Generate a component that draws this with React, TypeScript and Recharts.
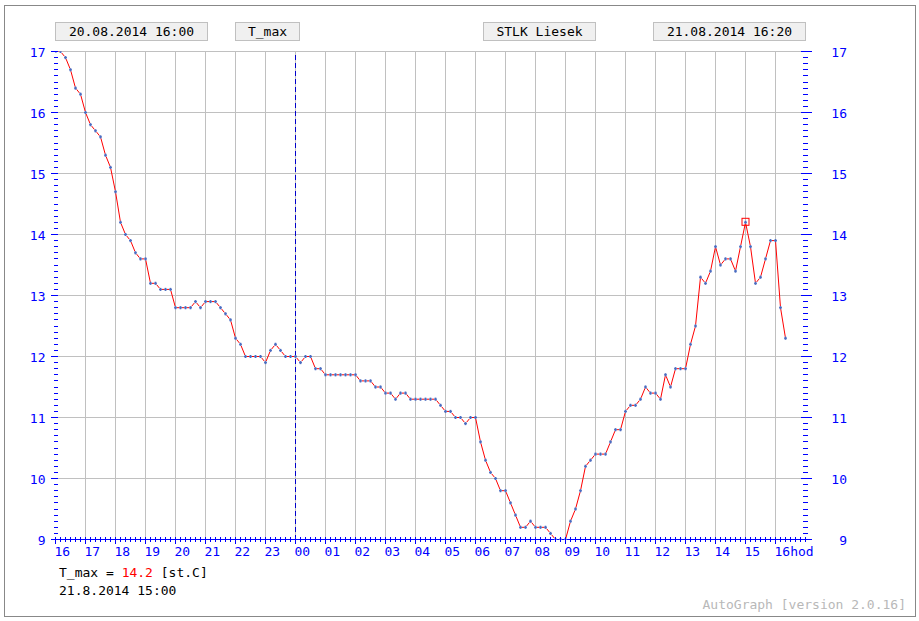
import React from 'react';
import {
  LineChart,
  Line,
  XAxis,
  YAxis,
  ReferenceLine,
  ReferenceDot,
} from 'recharts';

// T_max, 10-minute samples from 20.08.2014 16:00 to 21.08.2014 16:20
const tMax = [
  17.0, 17.0, 16.9, 16.7, 16.4, 16.3, 16.0, 15.8, 15.7, 15.6, 15.3, 15.1,
  14.7, 14.2, 14.0, 13.9, 13.7, 13.6, 13.6, 13.2, 13.2, 13.1, 13.1, 13.1,
  12.8, 12.8, 12.8, 12.8, 12.9, 12.8, 12.9, 12.9, 12.9, 12.8, 12.7, 12.6,
  12.3, 12.2, 12.0, 12.0, 12.0, 12.0, 11.9, 12.1, 12.2, 12.1, 12.0, 12.0,
  12.0, 11.9, 12.0, 12.0, 11.8, 11.8, 11.7, 11.7, 11.7, 11.7, 11.7, 11.7,
  11.7, 11.6, 11.6, 11.6, 11.5, 11.5, 11.4, 11.4, 11.3, 11.4, 11.4, 11.3,
  11.3, 11.3, 11.3, 11.3, 11.3, 11.2, 11.1, 11.1, 11.0, 11.0, 10.9, 11.0,
  11.0, 10.6, 10.3, 10.1, 10.0, 9.8, 9.8, 9.6, 9.4, 9.2, 9.2, 9.3,
  9.2, 9.2, 9.2, 9.1, 9.0, 9.0, 9.0, 9.3, 9.5, 9.8, 10.2, 10.3,
  10.4, 10.4, 10.4, 10.6, 10.8, 10.8, 11.1, 11.2, 11.2, 11.3, 11.5, 11.4,
  11.4, 11.3, 11.7, 11.5, 11.8, 11.8, 11.8, 12.2, 12.5, 13.3, 13.2, 13.4,
  13.8, 13.5, 13.6, 13.6, 13.4, 13.8, 14.2, 13.8, 13.2, 13.3, 13.6, 13.9,
  13.9, 12.8, 12.3,
];

const hourLabels = [
  '16', '17', '18', '19', '20', '21', '22', '23', '00', '01', '02', '03',
  '04', '05', '06', '07', '08', '09', '10', '11', '12', '13', '14', '15', '16hod',
];
const yLabels = [9, 10, 11, 12, 13, 14, 15, 16, 17];

const STEPS_PER_HOUR = 6;
const SPAN = 150; // 25 hours shown
const MIDNIGHT = 48;
const CURSOR_STEP = 138; // 21.8.2014 15:00

const BLUE = '#0000ff';
const GRID = '#c0c0c0';
const MONO = '"DejaVu Sans Mono", monospace';

const data = tMax.map((v, i) => ({ step: i, tMax: v }));

const gridXTicks = hourLabels.slice(1).map((_, h) => (h + 1) * STEPS_PER_HOUR);
const xTicks = Array.from({ length: SPAN + 1 }, (_, i) => i);
const gridYTicks = yLabels.slice(1);
const yTicks = Array.from({ length: 81 }, (_, k) => (90 + k) / 10);

const isWhole = (v: number) => Math.abs(v - Math.round(v)) < 1e-6;

const XTick = ({ x, y, payload }: any) => {
  const v = payload.value;
  const major = v % STEPS_PER_HOUR === 0 && v < SPAN;
  if (!major) {
    return <line x1={x} x2={x} y1={y - 2.5} y2={y + 2.5} stroke={BLUE} shapeRendering="crispEdges" />;
  }
  return (
    <g>
      <line x1={x} x2={x} y1={y - 3} y2={y + 4} stroke={BLUE} shapeRendering="crispEdges" />
      <text x={x - 1} y={y + 16.5} fill={BLUE} fontSize={13} fontFamily={MONO}>
        {hourLabels[v / STEPS_PER_HOUR]}
      </text>
    </g>
  );
};

const YLeftTick = ({ x, y, payload }: any) => {
  if (!isWhole(payload.value)) {
    return <line x1={x - 2} x2={x + 2} y1={y} y2={y} stroke={BLUE} shapeRendering="crispEdges" />;
  }
  return (
    <g>
      <line x1={x - 5} x2={x + 2} y1={y} y2={y} stroke={BLUE} shapeRendering="crispEdges" />
      <text x={x - 10} y={y + 5} textAnchor="end" fill={BLUE} fontSize={13} fontFamily={MONO}>
        {Math.round(payload.value)}
      </text>
    </g>
  );
};

const YRightTick = ({ x, y, payload }: any) => {
  if (!isWhole(payload.value)) {
    return <line x1={x - 2.5} x2={x + 2.5} y1={y} y2={y} stroke={BLUE} shapeRendering="crispEdges" />;
  }
  return (
    <g>
      <line x1={x - 5} x2={x + 6} y1={y} y2={y} stroke={BLUE} shapeRendering="crispEdges" />
      <text x={x + 41.5} y={y + 5} textAnchor="end" fill={BLUE} fontSize={13} fontFamily={MONO}>
        {Math.round(payload.value)}
      </text>
    </g>
  );
};

const renderDot = (props: any) => {
  const { cx, cy, index } = props;
  return (
    <g key={`dot-${index}`}>
      <rect x={cx - 1.5} y={cy - 1.5} width={3} height={3} fill="#b4c2e6" />
      <rect x={cx - 1.5} y={cy - 0.5} width={3} height={1} fill="#4a6cc0" />
      <rect x={cx - 0.5} y={cy - 1.5} width={1} height={3} fill="#4a6cc0" />
    </g>
  );
};

const CursorSquare = (props: any) => (
  <rect x={props.cx - 3.5} y={props.cy - 4} width={7} height={7} fill="none" stroke="#ff0000" />
);

const headerBoxes = [
  { x: 55.5, w: 152, label: '20.08.2014 16:00' },
  { x: 235.5, w: 64, label: 'T_max' },
  { x: 483.5, w: 112, label: 'STLK Liesek' },
  { x: 653.5, w: 152, label: '21.08.2014 16:20' },
];

export default function App() {
  return (
    <div style={{ position: 'absolute', left: 0, top: 0, width: 919, height: 621, background: '#fff' }}>
      <LineChart
        width={919}
        height={621}
        data={data}
        margin={{ top: 51.5, right: 63.5, bottom: 51.5, left: 5.5 }}
      >
        <XAxis
          dataKey="step"
          type="number"
          domain={[0, SPAN]}
          ticks={xTicks}
          interval={0}
          allowDataOverflow
          height={30}
          tickSize={0}
          tickMargin={0}
          tickLine={false}
          tick={<XTick />}
          axisLine={{ stroke: BLUE, shapeRendering: 'crispEdges' }}
        />
        <YAxis
          yAxisId="left"
          type="number"
          domain={[9, 17]}
          ticks={yTicks}
          interval={0}
          allowDataOverflow
          width={50}
          tickSize={0}
          tickMargin={0}
          tickLine={false}
          tick={<YLeftTick />}
          axisLine={false}
        />
        <YAxis
          yAxisId="right"
          orientation="right"
          type="number"
          domain={[9, 17]}
          ticks={yTicks}
          interval={0}
          allowDataOverflow
          width={50}
          tickSize={0}
          tickMargin={0}
          tickLine={false}
          tick={<YRightTick />}
          axisLine={false}
        />

        {gridXTicks.map((t) => (
          <ReferenceLine key={`gx-${t}`} yAxisId="left" x={t} stroke={GRID} shapeRendering="crispEdges" />
        ))}
        {gridYTicks.map((t) => (
          <ReferenceLine key={`gy-${t}`} yAxisId="left" y={t} stroke={GRID} shapeRendering="crispEdges" />
        ))}
        <ReferenceLine yAxisId="left" x={MIDNIGHT} stroke="#0000cc" strokeDasharray="5 3" shapeRendering="crispEdges" />

        <Line
          yAxisId="left"
          type="linear"
          dataKey="tMax"
          stroke="#ff0000"
          strokeWidth={1}
          dot={renderDot}
          activeDot={false}
          isAnimationActive={false}
        />

        <ReferenceDot
          yAxisId="left"
          x={CURSOR_STEP}
          y={tMax[CURSOR_STEP]}
          r={4}
          shape={<CursorSquare />}
        />
      </LineChart>

      <svg
        width={919}
        height={621}
        style={{ position: 'absolute', left: 0, top: 0, pointerEvents: 'none' }}
      >
        <rect x={4.5} y={5.5} width={911} height={611} fill="none" stroke="#888888" />
        {headerBoxes.map((b) => (
          <g key={b.label}>
            <rect x={b.x} y={22.5} width={b.w} height={18} fill="#f0f0f0" stroke="#c0c0c0" />
            <text x={b.x + b.w / 2} y={36} textAnchor="middle" fontSize={13} fontFamily={MONO} fill="#000">
              {b.label}
            </text>
          </g>
        ))}
        <text x={59} y={577} fontSize={13} fontFamily={MONO} fill="#000" xmlSpace="preserve">
          T_max = <tspan fill="#ff0000">14.2</tspan> [st.C]
        </text>
        <text x={59} y={595} fontSize={13} fontFamily={MONO} fill="#000">
          21.8.2014 15:00
        </text>
        <text x={906} y={609} textAnchor="end" fontSize={13} fontFamily={MONO} fill="#b8b8b8">
          AutoGraph [version 2.0.16]
        </text>
      </svg>
    </div>
  );
}
